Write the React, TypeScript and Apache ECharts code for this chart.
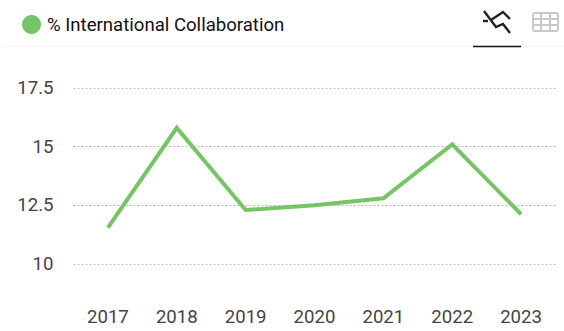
import React, { useEffect, useRef } from "react";
import * as echarts from "echarts";

const categories = ["2017", "2018", "2019", "2020", "2021", "2022", "2023"];
const collaboration = [11.55, 15.8, 12.3, 12.5, 12.8, 15.1, 12.12];
const seriesName = "% International Collaboration";
const yTicks: Record<number, string> = { 10: "10", 12.5: "12.5", 15: "15", 17.5: "17.5" };
const GREEN = "#75c566";
const FONT = "Roboto, sans-serif";

export default function App() {
  const ref = useRef<HTMLDivElement>(null);
  useEffect(() => {
    document.body.style.margin = "0";
    const chart = echarts.init(ref.current!, undefined, { renderer: "svg" });
    const iconStroke = { stroke: "#222", lineWidth: 2.4, fill: "none" };
    const gridStroke = { stroke: "#c8c8c8", lineWidth: 2, fill: "none" };
    chart.setOption({
      animation: false,
      backgroundColor: "#fff",
      legend: {
        left: 17,
        top: 10,
        icon: "circle",
        itemWidth: 19,
        itemHeight: 19,
        itemGap: 6,
        selectedMode: false,
        textStyle: { fontFamily: FONT, fontSize: 18.6, color: "#111", padding: [1, 0, 0, 1] },
        data: [seriesName],
      },
      grid: { left: 73.5, right: 8.5, top: 88, bottom: 67 },
      xAxis: {
        type: "category",
        data: categories,
        axisLine: { show: false },
        axisTick: { show: false },
        axisLabel: { margin: 43, fontFamily: FONT, fontSize: 18.6, color: "#444" },
      },
      yAxis: {
        type: "value",
        min: 10,
        max: 17.5,
        interval: 2.5,
        axisLine: { show: false },
        axisTick: { show: false },
        axisLabel: {
          margin: 20,
          fontFamily: FONT,
          fontSize: 18.6,
          color: "#444",
          formatter: (v: number) => yTicks[v] ?? String(v),
        },
        splitLine: { lineStyle: { type: [2, 2], color: "#b8b8b8", width: 1 } },
      },
      series: [
        {
          name: seriesName,
          type: "line",
          data: collaboration,
          showSymbol: false,
          symbol: "none",
          lineStyle: { color: GREEN, width: 4, join: "miter" },
          itemStyle: { color: GREEN },
        },
      ],
      graphic: [
        { type: "line", shape: { x1: 3, y1: 46.5, x2: 564, y2: 46.5 }, style: { stroke: "#f4f4f4", lineWidth: 1 } },
        { type: "line", shape: { x1: 473, y1: 46.5, x2: 521, y2: 46.5 }, style: { stroke: "#111", lineWidth: 1.5 } },
        { type: "polyline", shape: { points: [[484, 11], [496, 27], [503, 24], [510, 33]] }, style: iconStroke },
        { type: "line", shape: { x1: 483, y1: 21, x2: 488, y2: 21 }, style: iconStroke },
        { type: "polyline", shape: { points: [[491, 20], [503, 12], [510, 19]] }, style: iconStroke },
        { type: "rect", shape: { x: 533, y: 13, width: 25, height: 18, r: 2 }, style: gridStroke },
        { type: "line", shape: { x1: 533, y1: 19, x2: 558, y2: 19 }, style: gridStroke },
        { type: "line", shape: { x1: 533, y1: 25, x2: 558, y2: 25 }, style: gridStroke },
        { type: "line", shape: { x1: 541, y1: 13, x2: 541, y2: 31 }, style: gridStroke },
        { type: "line", shape: { x1: 550, y1: 13, x2: 550, y2: 31 }, style: gridStroke },
      ],
    });
    return () => chart.dispose();
  }, []);
  return <div ref={ref} style={{ width: 564, height: 331 }} />;
}
